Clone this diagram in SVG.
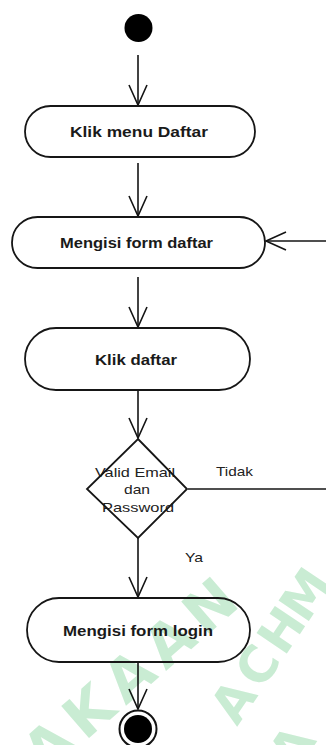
<svg xmlns="http://www.w3.org/2000/svg" width="326" height="745" viewBox="0 0 326 745">
<defs>
<marker id="arr" markerUnits="userSpaceOnUse" markerWidth="30" markerHeight="30" refX="0" refY="0" orient="auto" overflow="visible">
<path d="M -20 -9 L 0 0 L -20 9" fill="none" stroke="#141414" stroke-width="1.6"/>
</marker>
</defs>
<style>
.wm{font-family:"DejaVu Sans",sans-serif;font-weight:bold;fill:#c9ecd3;text-anchor:middle}
.node{fill:none;stroke:#161616;stroke-width:1.8}
.lbl{font-family:"Liberation Sans",Arial,sans-serif;font-size:15px;font-weight:bold;fill:#1a1a1a;text-anchor:start}
.small{font-family:"Liberation Sans",Arial,sans-serif;font-size:13px;fill:#222}
.edge{fill:none;stroke:#141414;stroke-width:1.6}
</style>
<rect width="326" height="745" fill="#ffffff"/>
<g id="watermark">
<g transform="translate(205,600) rotate(-41)">
<text class="wm" font-size="58" x="-214 -161 -107 -54 0" y="28">AKAAN</text>
</g>
<g transform="translate(233,701) rotate(-56)">
<text class="wm" font-size="50" x="-75 0 43 86 129" y="18">LACHM</text>
<text class="wm" font-size="50" x="-5" y="92">A</text>
</g>
</g>
<g id="connectors">
<line class="edge" x1="138" y1="55" x2="138" y2="105" marker-end="url(#arr)"/>
<line class="edge" x1="138" y1="163" x2="138" y2="216" marker-end="url(#arr)"/>
<line class="edge" x1="138" y1="277" x2="138" y2="327" marker-end="url(#arr)"/>
<line class="edge" x1="138" y1="390" x2="138" y2="438" marker-end="url(#arr)"/>
<line class="edge" x1="138" y1="538" x2="138" y2="597" marker-end="url(#arr)"/>
<line class="edge" x1="138" y1="662" x2="138" y2="709" marker-end="url(#arr)"/>
<line class="edge" x1="188" y1="489" x2="326" y2="489"/>
<line class="edge" x1="326" y1="241" x2="266" y2="241" marker-end="url(#arr)"/>
<text class="small" x="216" y="476" textLength="37" lengthAdjust="spacingAndGlyphs">Tidak</text>
<text class="small" x="185" y="562" textLength="18" lengthAdjust="spacingAndGlyphs">Ya</text>
</g>
<g id="start">
<circle cx="138.5" cy="28" r="14" fill="#000"/>
</g>
<g id="klik-menu-daftar">
<rect class="node" x="25" y="106" width="230" height="51" rx="25.5"/>
<text class="lbl" x="70" y="136.5" textLength="138" lengthAdjust="spacingAndGlyphs">Klik menu Daftar</text>
</g>
<g id="mengisi-form-daftar">
<rect class="node" x="12" y="217" width="253" height="51" rx="25.5"/>
<text class="lbl" x="60" y="247.5" textLength="153" lengthAdjust="spacingAndGlyphs">Mengisi form daftar</text>
</g>
<g id="klik-daftar">
<rect class="node" x="25" y="328" width="225" height="62" rx="31"/>
<text class="lbl" x="95" y="364.5" textLength="82" lengthAdjust="spacingAndGlyphs">Klik daftar</text>
</g>
<g id="decision">
<text class="small" x="95" y="477" textLength="80" lengthAdjust="spacingAndGlyphs">Valid Email</text>
<text class="small" x="124" y="494" textLength="26" lengthAdjust="spacingAndGlyphs">dan</text>
<text class="small" x="102" y="512" textLength="72" lengthAdjust="spacingAndGlyphs">Password</text>
<polygon points="138,439 187,489 138,538 87,489" fill="none" stroke="#161616" stroke-width="1.8"/>
</g>
<g id="mengisi-form-login">
<rect class="node" x="27" y="598" width="223" height="64" rx="32"/>
<text class="lbl" x="63" y="635.5" textLength="150" lengthAdjust="spacingAndGlyphs">Mengisi form login</text>
</g>
<g id="end">
<circle cx="138" cy="729" r="18.5" fill="#fff" stroke="#141414" stroke-width="2"/>
<circle cx="138" cy="729" r="14" fill="#000"/>
</g>
</svg>
